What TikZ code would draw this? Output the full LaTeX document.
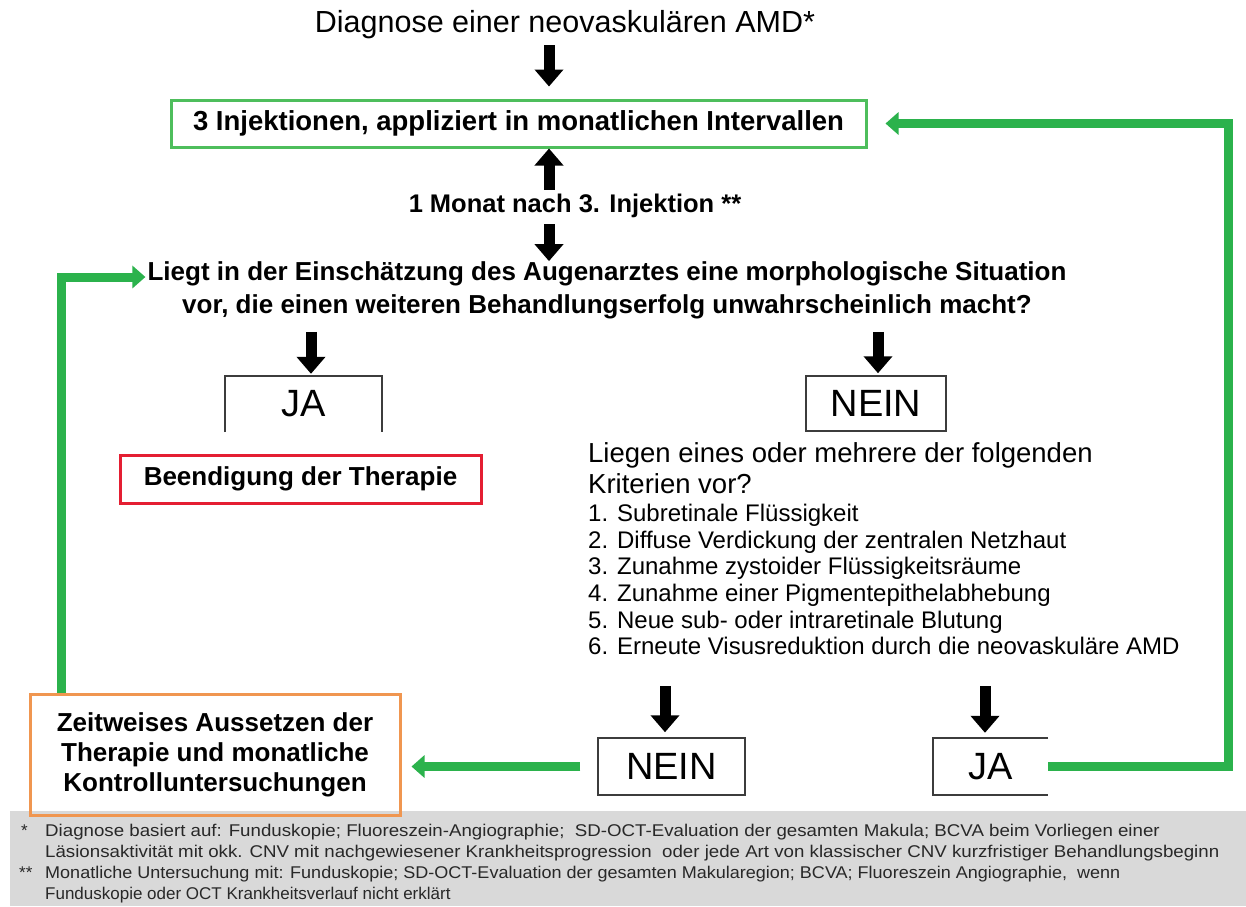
\documentclass[tikz,border=0pt]{standalone}
\usepackage{fontspec}
\setmainfont{Liberation Sans}
\usetikzlibrary{arrows.meta}
\definecolor{lgreen}{RGB}{43,178,76}
\definecolor{boxgreen}{RGB}{78,190,92}
\definecolor{oborder}{RGB}{240,150,80}
\definecolor{rborder}{RGB}{228,30,50}
\definecolor{fgrey}{RGB}{217,217,217}
\definecolor{bline}{RGB}{60,60,60}
\definecolor{ftext}{RGB}{40,40,40}
\newcommand{\myfs}[2]{\fontsize{#1}{#2}\selectfont}
\begin{document}
\begin{tikzpicture}[x=1pt,y=-1pt,
  blk/.style={line width=11pt, draw=black, -{Triangle[width=28pt,length=17pt]}},
  garrow/.style={draw=lgreen, line width=9pt, -{Triangle[width=22pt,length=13pt]}},
  txt/.style={inner sep=0pt},
  boxline/.style={draw=bline, line width=1.5pt},
  ansbox/.style={inner sep=0pt, font=\myfs{38}{44}},
  crit/.style={inner sep=0pt, anchor=base west, font=\myfs{24}{27}},
  crithead/.style={inner sep=0pt, anchor=base west, font=\myfs{27.5}{31}},
  foot/.style={inner sep=0pt, anchor=base west, text=ftext, font=\myfs{17}{20}},
  bold/.style={font=\bfseries\myfs{26}{30}}
]
\useasboundingbox (0,0) rectangle (1246,906);
\fill[white] (0,0) rectangle (1246,906);
\fill[fgrey] (10,811) rectangle (1246,906);

% coordinates for arrow columns
\coordinate (ax) at (549,0);
\coordinate (axja) at (311,0);
\coordinate (axnein) at (878,0);
\coordinate (axb1) at (665,0);
\coordinate (axb2) at (985,0);
\coordinate (rc) at (1228,0);
\coordinate (lc) at (61,277);

% nodes
\node[txt, font=\myfs{30.5}{36}] (title) at (565,25) {Diagnose einer neovaskulären AMD*};
\node[draw=boxgreen, line width=3pt, minimum width=695pt, minimum height=47pt, inner sep=0pt,
      font=\bfseries\myfs{27.5}{32}] (inj) at (518.5,123.5) {3 Injektionen, appliziert in monatlichen Intervallen};
\node[txt, font=\bfseries\myfs{25.5}{30}] (monat) at (575,206) {1 Monat nach 3. Injektion **};
\node[txt, align=center, font=\bfseries\myfs{26}{33}] (frage) at (607,290)
  {Liegt in der Einschätzung des Augenarztes eine morphologische Situation\\vor, die einen weiteren Behandlungserfolg unwahrscheinlich macht?};

\node[ansbox, minimum width=157pt, minimum height=56pt] (ja1) at (303.5,404) {JA};
\draw[boxline] (ja1.south west) -- (ja1.north west) -- (ja1.north east) -- (ja1.south east);
\node[ansbox, boxline, minimum width=140pt, minimum height=55pt] (nein1) at (876,403.5) {NEIN};

\node[draw=rborder, line width=3pt, minimum width=361pt, minimum height=48pt, inner sep=0pt, bold] (ende) at (300.5,479) {Beendigung der Therapie};

\node[crithead] (k0) at (588,462) {Liegen eines oder mehrere der folgenden};
\node[crithead] (k00) at (588,493) {Kriterien vor?};
\node[crit] (k1) at (588,521.6) {1. Subretinale Flüssigkeit};
\node[crit] (k2) at (588,548.2) {2. Diffuse Verdickung der zentralen Netzhaut};
\node[crit] (k3) at (588,574.8) {3. Zunahme zystoider Flüssigkeitsräume};
\node[crit] (k4) at (588,601.4) {4. Zunahme einer Pigmentepithelabhebung};
\node[crit] (k5) at (588,628) {5. Neue sub- oder intraretinale Blutung};
\node[crit] (k6) at (588,654.6) {6. Erneute Visusreduktion durch die neovaskuläre AMD};

\node[ansbox, boxline, minimum width=147pt, minimum height=57pt] (nein2) at (671.5,766.5) {NEIN};
\node[ansbox, minimum width=115pt, minimum height=57pt] (ja2) at (990.5,766.5) {JA};
\draw[boxline] (ja2.north east) -- (ja2.north west) -- (ja2.south west) -- (ja2.south east);

\node[draw=oborder, line width=3pt, minimum width=370pt, minimum height=121pt, inner sep=0pt, align=center, bold] (pause) at (215,754.5)
  {Zeitweises Aussetzen der\\Therapie und monatliche\\Kontrolluntersuchungen};

% footnotes
\node[foot] (fs1) at (21,836) {*};
\node[foot] (fn1) at (45,836) {\scalebox{1.1}[1]{Diagnose basiert auf: Funduskopie; Fluoreszein-Angiographie;\ \ SD-OCT-Evaluation der gesamten Makula; BCVA beim Vorliegen einer}};
\node[foot] (fn2) at (45,857) {\scalebox{1.1}[1]{Läsionsaktivität mit okk. CNV mit nachgewiesener Krankheitsprogression\ \ oder jede Art von klassischer CNV kurzfristiger Behandlungsbeginn}};
\node[foot] (fs3) at (19,878) {**};
\node[foot] (fn3) at (45,878) {\scalebox{1.06}[1]{Monatliche Untersuchung mit: Funduskopie; SD-OCT-Evaluation der gesamten Makularegion; BCVA; Fluoreszein Angiographie,\ \ wenn}};
\node[foot] (fn4) at (45,899) {Funduskopie oder OCT Krankheitsverlauf nicht erklärt};

% black block arrows
\draw[blk, shorten <=6pt, shorten >=12pt] (title.south -| ax) -- (inj.north -| ax);
\draw[blk, shorten <=4pt, shorten >=0pt] (monat.north -| ax) -- (inj.south -| ax);
\draw[blk, shorten <=6pt, shorten >=0pt] (monat.south -| ax) -- (frage.north -| ax);
\draw[blk, shorten <=13pt, shorten >=2pt] (frage.south -| axja) -- (ja1.north -| axja);
\draw[blk, shorten <=13pt, shorten >=2pt] (frage.south -| axnein) -- (nein1.north -| axnein);
\draw[blk, shorten <=31pt, shorten >=5pt] (k6.south -| axb1) -- (nein2.north -| axb1);
\draw[blk, shorten <=31pt, shorten >=5pt] (k6.south -| axb2) -- (ja2.north -| axb2);

% green connectors
\draw[garrow, shorten >=18pt] (ja2.east) -- (ja2.east -| rc) -- (rc |- inj.east) -- (inj.east);
\draw[garrow, shorten >=2pt] (pause.north -| lc) -- (lc) -- (lc -| frage.west);
\draw[garrow, shorten <=17pt, shorten >=10pt] (nein2.west) -- (nein2.west -| pause.east);
\end{tikzpicture}
\end{document}
